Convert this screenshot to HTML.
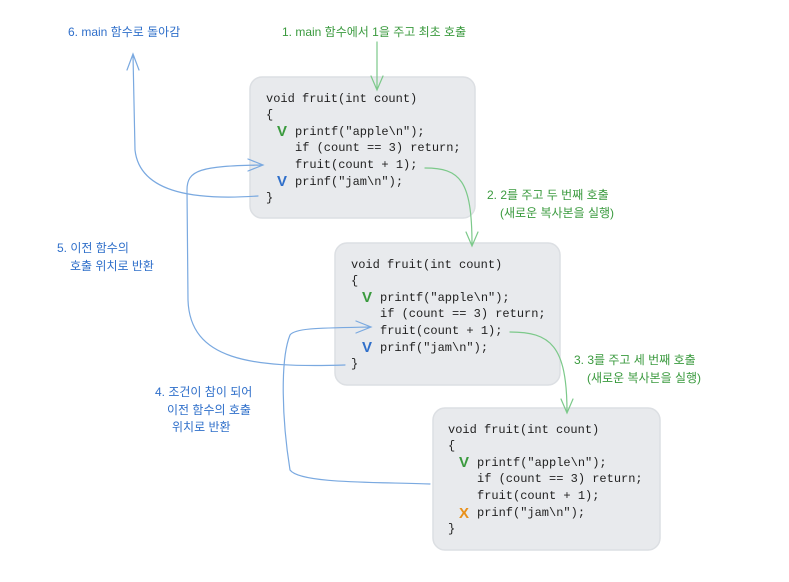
<!DOCTYPE html>
<html><head><meta charset="utf-8"><style>
body{margin:0;background:#fff;width:789px;height:577px;overflow:hidden}
svg text{font-family:"Liberation Sans","Noto Sans CJK KR",sans-serif;font-size:12px}
svg .c text{font-family:"Liberation Mono","Noto Sans CJK KR",monospace;font-size:12px;fill:#222}
.b{fill:#2f6fca}.g{fill:#3a9a3e}
</style></head><body>
<svg width="789" height="577" xmlns="http://www.w3.org/2000/svg">
<g fill="#e8eaed" stroke="#dcdfe3" stroke-width="1.5">
<rect x="250" y="77" width="225" height="141" rx="12"/>
<rect x="335" y="243" width="225" height="142" rx="12"/>
<rect x="433" y="408" width="227" height="142" rx="12"/>
</g>
<g fill="none" stroke-width="1.2" stroke-linecap="round">
<g stroke="#7cc98a">
<path d="M377 42 L377 90 M371 76 L377 90 L383 76"/>
<path d="M425 168 C460 168 472 180 472 245 M466 232 L472 246 L478 232"/>
<path d="M510 332 C550 332 567 345 567 412 M561 399 L567 413 L573 399"/>
</g>
<g stroke="#7aa9e0">
<path d="M258 196 C200 200 140 195 135 150 L133 55 M127 70 L133 54 L139 70"/>
<path d="M345 365 C250 368 190 360 188 300 L187 190 C187 170 200 166 262 165 M248 159 L263 165 L248 171"/>
<path d="M430 484 C380 482 300 484 290 470 C282 420 280 360 290 335 C295 328 320 328 370 327 M356 321 L371 327 L356 333"/>
</g>
</g>
<text x="68" y="36" class="b">6. main 함수로 돌아감</text>
<text x="282" y="36" class="g">1. main 함수에서 1을 주고 최초 호출</text>
<text x="487" y="199" class="g">2. 2를 주고 두 번째 호출</text>
<text x="500" y="217" class="g">(새로운 복사본을 실행)</text>
<text x="574" y="364" class="g">3. 3를 주고 세 번째 호출</text>
<text x="587" y="382" class="g">(새로운 복사본을 실행)</text>
<text x="57" y="252" class="b">5. 이전 함수의</text>
<text x="70" y="270" class="b">호출 위치로 반환</text>
<text x="155" y="396" class="b">4. 조건이 참이 되어</text>
<text x="167" y="414" class="b">이전 함수의 호출</text>
<text x="172" y="431" class="b">위치로 반환</text>
<g class="c">
<text x="266" y="102">void fruit(int count)</text>
<text x="266" y="118">{</text>
<text x="295" y="135">printf("apple\n");</text>
<text x="295" y="151">if (count == 3) return;</text>
<text x="295" y="168">fruit(count + 1);</text>
<text x="295" y="185">prinf("jam\n");</text>
<text x="266" y="201">}</text>
<text x="351" y="268">void fruit(int count)</text>
<text x="351" y="284">{</text>
<text x="380" y="301">printf("apple\n");</text>
<text x="380" y="317">if (count == 3) return;</text>
<text x="380" y="334">fruit(count + 1);</text>
<text x="380" y="351">prinf("jam\n");</text>
<text x="351" y="367">}</text>
<text x="448" y="433">void fruit(int count)</text>
<text x="448" y="449">{</text>
<text x="477" y="466">printf("apple\n");</text>
<text x="477" y="482">if (count == 3) return;</text>
<text x="477" y="499">fruit(count + 1);</text>
<text x="477" y="516">prinf("jam\n");</text>
<text x="448" y="532">}</text>
</g>
<g font-weight="bold">
<text x="277" y="136" class="g" style="font-size:15px">V</text>
<text x="277" y="186" class="b" style="font-size:15px">V</text>
<text x="362" y="302" class="g" style="font-size:15px">V</text>
<text x="362" y="352" class="b" style="font-size:15px">V</text>
<text x="459" y="467" class="g" style="font-size:15px">V</text>
<text x="459" y="518" style="font-size:15px;fill:#e8901a">X</text>
</g>
</svg>
</body></html>
